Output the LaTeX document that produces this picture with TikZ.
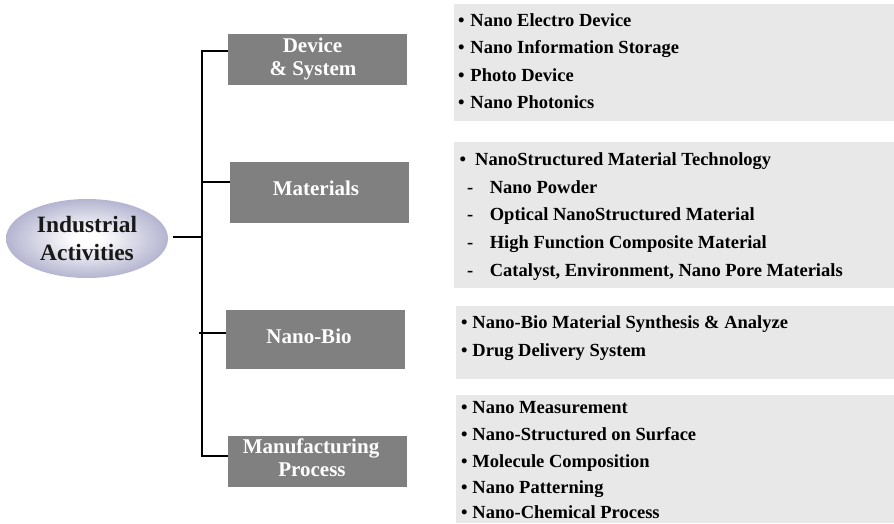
\documentclass[tikz,border=0pt]{standalone}
\usepackage{fontspec}
\setmainfont{Liberation Serif}
\usetikzlibrary{shapes.geometric}
\definecolor{panelgray}{RGB}{232,232,232}
\definecolor{boxgray}{RGB}{128,128,128}
\definecolor{elledge}{RGB}{106,106,162}
\pgfdeclareradialshading{ellshade}{\pgfpoint{0bp}{0bp}}{color(0bp)=(white); color(4bp)=(white); color(46bp)=(elledge); color(100bp)=(elledge)}
\tikzset{
  conn/.style={line width=1.6pt, draw=black},
  catbox/.style={rectangle, fill=boxgray, inner sep=0pt, anchor=north west},
  panel/.style={rectangle, fill=panelgray, inner sep=0pt, anchor=north west},
  cattext/.style={text=white, font=\fontsize{21}{22}\selectfont\bfseries, inner sep=0pt, anchor=base},
  item/.style={font=\fontsize{18.5}{20}\selectfont\bfseries, inner sep=0pt, anchor=base west},
  hubell/.style={ellipse, shading=ellshade, inner sep=0pt, minimum width=162pt, minimum height=79pt,
     align=center, text=black!90, font=\fontsize{23.4}{28.7}\selectfont\bfseries}
}
\begin{document}
\begin{tikzpicture}[x=1pt,y=-1pt]
\useasboundingbox (0,0) rectangle (894,523);

% right panels
\node[panel, minimum width=440pt, minimum height=117pt] (p1) at (454,4) {};
\node[panel, minimum width=440pt, minimum height=146pt] (p2) at (454,142) {};
\node[panel, minimum width=438pt, minimum height=73pt] (p3) at (456,306) {};
\node[panel, minimum width=438pt, minimum height=128pt] (p4) at (456,395) {};

% category boxes
\node[catbox, minimum width=178.7pt, minimum height=50.3pt] (dev) at (228,34) {};
\node[catbox, minimum width=179pt, minimum height=60.7pt] (mat) at (230,162) {};
\node[catbox, minimum width=179pt, minimum height=58.7pt] (bio) at (226,310) {};
\node[catbox, minimum width=178.7pt, minimum height=50.7pt] (man) at (228,436) {};

\node[cattext] (devA) at (312.5,52.7) {Device};
\node[cattext] (devB) at (313,75) {\& System};
\node[cattext] (matL) at (316,195) {Materials};
\node[cattext] (bioL) at (309,343.3) {Nano-Bio};
\node[cattext] (manA) at (311,453.3) {Manufacturing};
\node[cattext] (manB) at (312,476.7) {Process};

% root ellipse
\node[hubell] (ell) at (87,238.5) {Industrial\\Activities};

% connectors
\coordinate (hub) at (202,237);
\coordinate (ttop) at (202,50.7);
\coordinate (tbot) at (202,456);
\coordinate (bmat) at (202,182);
\coordinate (bbio) at (199,332.7);
\draw[conn] (ttop -| dev.west) -- (ttop) -- (tbot) -- (tbot -| man.west);
\draw[conn] ([shift={(5pt,1.5pt)}]ell.east) -- (hub);
\draw[conn] (bmat) -- (bmat -| mat.west);
\draw[conn] (bbio) -- (bbio -| bio.west);

% panel 1 items
\node[item] (i11) at (457.8,26) {•\hspace{6pt}Nano Electro Device};
\node[item] (i12) at (457.8,53.5) {•\hspace{6pt}Nano Information Storage};
\node[item] (i13) at (457.8,81) {•\hspace{6pt}Photo Device};
\node[item] (i14) at (457.8,108) {•\hspace{6pt}Nano Photonics};

% panel 2 items
\node[item] (i21) at (459.5,165.5) {•\hspace{9pt}NanoStructured Material Technology};
\node[item] (i22) at (467,193) {-\hspace{16.5pt}Nano Powder};
\node[item] (i23) at (467,220.5) {-\hspace{16.5pt}Optical NanoStructured Material};
\node[item] (i24) at (467,248) {-\hspace{16.5pt}High Function Composite Material};
\node[item] (i25) at (467,276.5) {-\hspace{16.5pt}Catalyst, Environment, Nano Pore Materials};

% panel 3 items
\node[item] (i31) at (460.8,328) {•\hspace{5pt}Nano-Bio Material Synthesis \& Analyze};
\node[item] (i32) at (460.8,356) {•\hspace{5pt}Drug Delivery System};

% panel 4 items
\node[item] (i41) at (460.8,413.5) {•\hspace{5pt}Nano Measurement};
\node[item] (i42) at (460.8,440.5) {•\hspace{5pt}Nano-Structured on Surface};
\node[item] (i43) at (460.8,467) {•\hspace{5pt}Molecule Composition};
\node[item] (i44) at (460.8,493) {•\hspace{5pt}Nano Patterning};
\node[item] (i45) at (460.8,518.5) {•\hspace{5pt}Nano-Chemical Process};
\end{tikzpicture}
\end{document}
